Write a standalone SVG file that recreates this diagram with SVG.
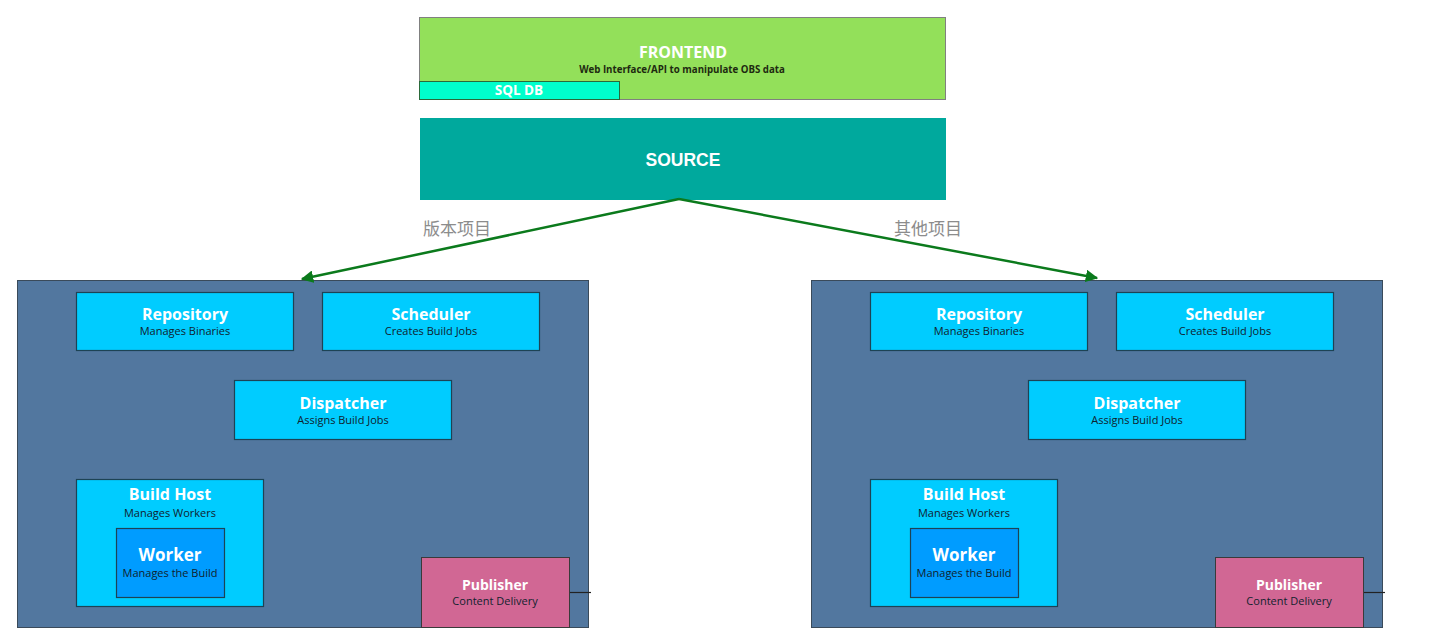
<svg xmlns="http://www.w3.org/2000/svg" width="1432" height="635" viewBox="0 0 1432 635">
<style>
.t{font-family:"Open Sans","Liberation Sans",sans-serif;font-weight:bold;fill:#ffffff;text-anchor:middle}
.s{font-family:"Open Sans","Liberation Sans",sans-serif;fill:#10222e;text-anchor:middle;font-size:11px}
.box{fill:#00ccff;stroke:#1d4355;stroke-width:1.2}
.cont{fill:#52779f;stroke:#3a4a5a;stroke-width:1}
.pub{fill:#d16794;stroke:#3a3a3a;stroke-width:1}
.wk{fill:#009cff;stroke:#1d4355;stroke-width:1.2}
.lbl{font-family:"Liberation Sans","Noto Sans CJK SC",sans-serif;font-size:17px;fill:#8c8c8c;text-anchor:middle}
.conn{stroke:#0b7a1c;stroke-width:2.5;fill:none}
.stub{stroke:#222;stroke-width:1.2}
</style>
<defs>
<marker id="ah" viewBox="0 0 10 10" refX="9" refY="5" markerWidth="5" markerHeight="5" orient="auto" markerUnits="strokeWidth">
<path d="M0,0 L10,5 L0,10 z" fill="#0b7a1c"/>
</marker>
</defs>
<rect width="1432" height="635" fill="#ffffff"/>

<g id="frontend">
<rect x="419.5" y="17.5" width="526" height="82" fill="#93e05a" stroke="#808080" stroke-width="1"/>
<text class="t" x="683" y="58" font-size="16">FRONTEND</text>
<text x="682" y="73" font-family="Open Sans,Liberation Sans,sans-serif" font-weight="bold" font-size="9.7" fill="#1e2a10" text-anchor="middle">Web Interface/API to manipulate OBS data</text>
</g>
<g id="sqldb">
<rect x="419.5" y="81.5" width="200" height="18" fill="#00ffcc" stroke="#2a6a3a" stroke-width="1"/>
<text class="t" x="519" y="95" font-size="13.5">SQL DB</text>
</g>
<g id="source">
<rect x="420" y="118" width="526" height="82" fill="#00a99d"/>
<text x="683" y="166" font-family="Liberation Sans,Arial,sans-serif" font-weight="bold" font-size="17.5" fill="#ffffff" text-anchor="middle">SOURCE</text>
</g>

<g id="cluster-left">
<rect class="cont" x="17.5" y="280.5" width="571" height="347"/>
</g>
<g id="repo-left">
<rect class="box" x="76.5" y="292.5" width="217" height="58"/>
<text class="t" x="185" y="320" font-size="16">Repository</text>
<text class="s" x="185" y="335">Manages Binaries</text>
</g>
<g id="sched-left">
<rect class="box" x="322.5" y="292.5" width="217" height="58"/>
<text class="t" x="431" y="320" font-size="16">Scheduler</text>
<text class="s" x="431" y="335">Creates Build Jobs</text>
</g>
<g id="disp-left">
<rect class="box" x="234.5" y="380.5" width="217" height="59"/>
<text class="t" x="343" y="409" font-size="16">Dispatcher</text>
<text class="s" x="343" y="424">Assigns Build Jobs</text>
</g>
<g id="host-left">
<rect class="box" x="76.5" y="479.5" width="187" height="127"/>
<text class="t" x="170" y="500" font-size="16">Build Host</text>
<text class="s" x="170" y="517">Manages Workers</text>
</g>
<g id="worker-left">
<rect class="wk" x="116.5" y="528.5" width="108" height="69"/>
<text class="t" x="170" y="561" font-size="17">Worker</text>
<text class="s" x="170" y="577">Manages the Build</text>
</g>
<g id="pub-left">
<rect class="pub" x="421.5" y="557.5" width="148" height="70"/>
<text class="t" x="495" y="590" font-size="14">Publisher</text>
<text class="s" x="495" y="605">Content Delivery</text>
</g>

<g id="cluster-right">
<rect class="cont" x="811.5" y="280.5" width="571" height="347"/>
</g>
<g id="repo-right">
<rect class="box" x="870.5" y="292.5" width="217" height="58"/>
<text class="t" x="979" y="320" font-size="16">Repository</text>
<text class="s" x="979" y="335">Manages Binaries</text>
</g>
<g id="sched-right">
<rect class="box" x="1116.5" y="292.5" width="217" height="58"/>
<text class="t" x="1225" y="320" font-size="16">Scheduler</text>
<text class="s" x="1225" y="335">Creates Build Jobs</text>
</g>
<g id="disp-right">
<rect class="box" x="1028.5" y="380.5" width="217" height="59"/>
<text class="t" x="1137" y="409" font-size="16">Dispatcher</text>
<text class="s" x="1137" y="424">Assigns Build Jobs</text>
</g>
<g id="host-right">
<rect class="box" x="870.5" y="479.5" width="187" height="127"/>
<text class="t" x="964" y="500" font-size="16">Build Host</text>
<text class="s" x="964" y="517">Manages Workers</text>
</g>
<g id="worker-right">
<rect class="wk" x="910.5" y="528.5" width="108" height="69"/>
<text class="t" x="964" y="561" font-size="17">Worker</text>
<text class="s" x="964" y="577">Manages the Build</text>
</g>
<g id="pub-right">
<rect class="pub" x="1215.5" y="557.5" width="148" height="70"/>
<text class="t" x="1289" y="590" font-size="14">Publisher</text>
<text class="s" x="1289" y="605">Content Delivery</text>
</g>

<g id="connectors">
<line class="conn" x1="679" y1="199" x2="302" y2="279" marker-end="url(#ah)"/>
<line class="conn" x1="679" y1="199" x2="1097" y2="278" marker-end="url(#ah)"/>
<line class="stub" x1="570" y1="592.5" x2="591" y2="592.5"/>
<line class="stub" x1="1364" y1="592.5" x2="1385" y2="592.5"/>
<text class="lbl" x="457" y="235">版本项目</text>
<text class="lbl" x="928" y="235">其他项目</text>
</g>
</svg>
